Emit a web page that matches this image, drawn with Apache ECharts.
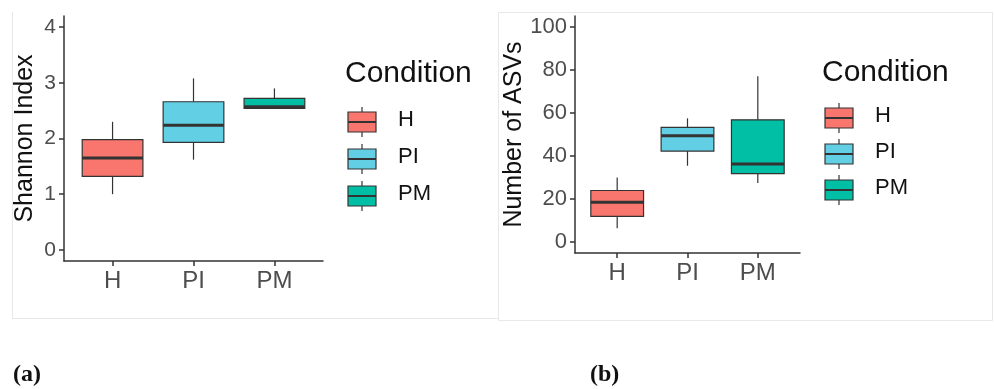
<!DOCTYPE html>
<html>
<head>
<meta charset="utf-8">
<script src="https://cdn.jsdelivr.net/npm/echarts@6/dist/echarts.min.js"></script>
<style>
  html, body { margin: 0; padding: 0; background: #fff; }
  #chart { width: 994px; height: 389px; }
</style>
</head>
<body>
<div id="chart"></div>
<script>
// categories and box colours
var categories = ["H", "PI", "PM"];
var boxColors = ["#F8766D", "#63CFE4", "#00BFA4"];

// [low whisker, Q1, median, Q3, high whisker]
var shannonStats = [
  [1.0, 1.32, 1.65, 1.98, 2.3],
  [1.62, 1.93, 2.24, 2.66, 3.08],
  [2.54, 2.54, 2.57, 2.72, 2.9]
];
var asvStats = [
  [6.5, 12, 18.5, 24, 30],
  [35.5, 42.3, 49.4, 53.3, 57.5],
  [27.5, 31.8, 36.3, 56.8, 77]
];

var shannonTicks = [0, 1, 2, 3, 4];
var asvTicks = [0, 20, 40, 60, 80, 100];

var FONT = "Liberation Sans, Arial, sans-serif";

function toRows(stats) {
  return stats.map(function (s, i) {
    return [i + 1].concat(s);
  });
}

function renderBox(params, api) {
  var x = api.value(0);
  var lo = api.coord([x, api.value(1)]);
  var q1 = api.coord([x, api.value(2)]);
  var md = api.coord([x, api.value(3)]);
  var q3 = api.coord([x, api.value(4)]);
  var hi = api.coord([x, api.value(5)]);
  var w = api.size([0.75, 0])[0];
  var cx = q1[0];
  return {
    type: "group",
    children: [
      { type: "line", shape: { x1: cx, y1: lo[1], x2: cx, y2: q1[1] }, style: { stroke: "#333", lineWidth: 1.2 } },
      { type: "line", shape: { x1: cx, y1: q3[1], x2: cx, y2: hi[1] }, style: { stroke: "#333", lineWidth: 1.2 } },
      {
        type: "rect",
        shape: { x: cx - w / 2, y: q3[1], width: w, height: q1[1] - q3[1] },
        style: { fill: boxColors[params.dataIndex], stroke: "#333", lineWidth: 1.2 }
      },
      { type: "line", shape: { x1: cx - w / 2, y1: md[1], x2: cx + w / 2, y2: md[1] }, style: { stroke: "#333", lineWidth: 3 } }
    ]
  };
}

function xAxisFor(gridIndex) {
  return {
    type: "value",
    gridIndex: gridIndex,
    min: 0.4,
    max: 3.6,
    splitLine: { show: false },
    axisLine: { show: true, onZero: false, lineStyle: { color: "#333", width: 1.5 } },
    axisTick: { show: true, length: 5, customValues: [1, 2, 3], lineStyle: { color: "#333", width: 1.5 } },
    axisLabel: {
      customValues: [1, 2, 3],
      margin: 8,
      fontSize: 24,
      fontFamily: FONT,
      color: "#4d4d4d",
      formatter: function (v) { return categories[Math.round(v) - 1]; }
    }
  };
}

function yAxisFor(gridIndex, name, min, max, ticks, nameGap, fontSize) {
  return {
    type: "value",
    gridIndex: gridIndex,
    min: min,
    max: max,
    name: name,
    nameLocation: "middle",
    nameGap: nameGap,
    nameTextStyle: { fontSize: 25, fontFamily: FONT, color: "#111" },
    splitLine: { show: false },
    axisLine: { show: true, onZero: false, lineStyle: { color: "#333", width: 1.5 } },
    axisTick: { show: true, length: 5, customValues: ticks, lineStyle: { color: "#333", width: 1.5 } },
    axisLabel: { customValues: ticks, margin: 8, fontSize: fontSize, fontFamily: FONT, color: "#4d4d4d" }
  };
}

// legend drawn as little boxplot keys
function legendFor(left, titleY, rowYs) {
  var items = [{
    type: "text",
    left: left - 3,
    top: titleY - 18,
    style: { text: "Condition", font: "30px " + FONT, fill: "#111" }
  }];
  categories.forEach(function (c, i) {
    var cy = rowYs[i];
    items.push({ type: "line", shape: { x1: left + 14, y1: cy - 15, x2: left + 14, y2: cy + 15 }, style: { stroke: "#333", lineWidth: 1.2 } });
    items.push({ type: "rect", shape: { x: left, y: cy - 10, width: 28, height: 20 }, style: { fill: boxColors[i], stroke: "#333", lineWidth: 1.2 } });
    items.push({ type: "line", shape: { x1: left, y1: cy, x2: left + 28, y2: cy }, style: { stroke: "#333", lineWidth: 2 } });
    items.push({ type: "text", left: left + 50, top: cy - 13, style: { text: c, font: "22px " + FONT, fill: "#111" } });
  });
  return items;
}

var chart = echarts.init(document.getElementById("chart"), null, { renderer: "canvas" });

var graphics = [
  // panel frames
  { type: "line", shape: { x1: 12.5, y1: 12, x2: 12.5, y2: 318.5 }, style: { stroke: "#e8e8e8", lineWidth: 1 } },
  { type: "line", shape: { x1: 12, y1: 318.5, x2: 498, y2: 318.5 }, style: { stroke: "#e8e8e8", lineWidth: 1 } },
  { type: "rect", shape: { x: 498.5, y: 12.5, width: 494, height: 308 }, style: { fill: "none", stroke: "#e8e8e8", lineWidth: 1 } },
  // panel labels
  { type: "text", left: 13, top: 363, style: { text: "(a)", font: "bold 24px Liberation Serif, serif", fill: "#111" } },
  { type: "text", left: 590, top: 363, style: { text: "(b)", font: "bold 24px Liberation Serif, serif", fill: "#111" } }
].concat(legendFor(348, 77, [122, 159, 196])).concat(legendFor(825, 76, [118, 154, 190]));

var option = {
  backgroundColor: "#fff",
  animation: false,
  grid: [
    { left: 64, top: 16, width: 259, height: 245 },
    { left: 575, top: 16, width: 225, height: 237 }
  ],
  xAxis: [xAxisFor(0), xAxisFor(1)],
  yAxis: [
    yAxisFor(0, "Shannon Index", -0.2, 4.2, shannonTicks, 26, 21),
    yAxisFor(1, "Number of ASVs", -5, 105, asvTicks, 41, 22)
  ],
  series: [
    {
      type: "custom",
      xAxisIndex: 0,
      yAxisIndex: 0,
      renderItem: renderBox,
      encode: { x: 0, y: [1, 2, 3, 4, 5] },
      data: toRows(shannonStats)
    },
    {
      type: "custom",
      xAxisIndex: 1,
      yAxisIndex: 1,
      renderItem: renderBox,
      encode: { x: 0, y: [1, 2, 3, 4, 5] },
      data: toRows(asvStats)
    }
  ],
  graphic: graphics
};

chart.setOption(option);
</script>
</body>
</html>
